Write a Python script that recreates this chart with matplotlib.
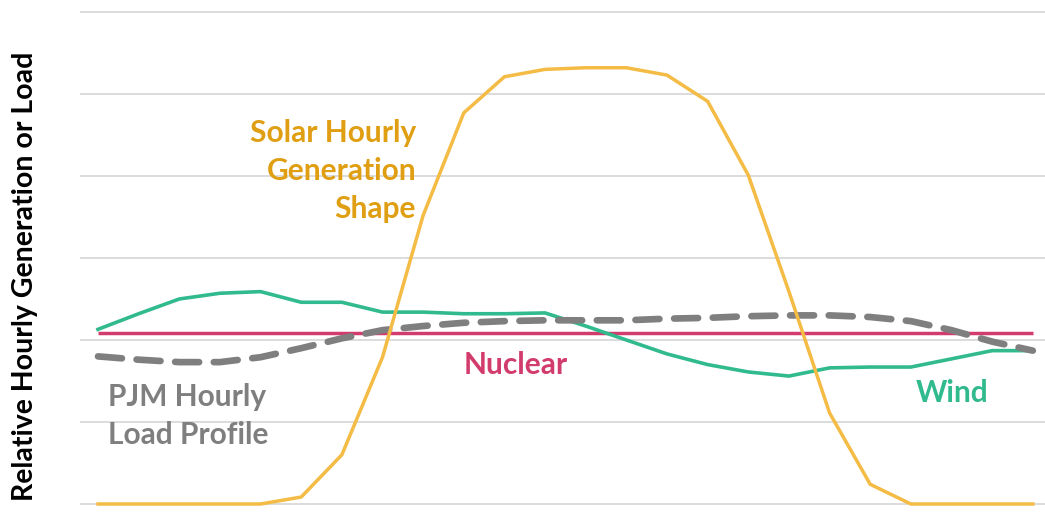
import matplotlib
matplotlib.use('Agg')
import matplotlib.pyplot as plt
import numpy as np

hours = list(range(1, 25))
solar = [0, 0, 0, 0, 0, 0.085, 0.60, 1.79, 3.52, 4.77, 5.21, 5.30, 5.32, 5.32, 5.23, 4.91,
         4.01, 2.59, 1.11, 0.24, 0, 0, 0, 0]
wind = [2.13, 2.32, 2.50, 2.57, 2.59, 2.46, 2.46, 2.34, 2.34, 2.32, 2.32, 2.33, 2.17, 2.00,
        1.83, 1.70, 1.61, 1.56, 1.66, 1.67, 1.67, 1.77, 1.87, 1.87]
nuclear = [2.09] * 24
load = [1.80, 1.76, 1.73, 1.73, 1.79, 1.90, 2.02, 2.12, 2.17, 2.21, 2.23, 2.24, 2.24, 2.24,
        2.26, 2.27, 2.29, 2.30, 2.30, 2.28, 2.23, 2.12, 1.98, 1.87]

SOLAR_C = '#F4BB45'
SOLAR_TXT = '#E09F12'
WIND_C = '#32BA8F'
NUC_C = '#D23C6C'
LOAD_C = '#7F7F7F'
FONT = 'Lato'

fig = plt.figure(figsize=(10.45, 5.12), dpi=100)
ax = fig.add_axes([80 / 1045, 0, 965 / 1045, 1])

for v in range(7):
    ax.axhline(v, color='#D9D9D9', lw=1.3, zorder=0)

ax.plot(hours, nuclear, color=NUC_C, lw=2.5, zorder=2, solid_capstyle='butt')
ax.plot(hours, wind, color=WIND_C, lw=2.6, zorder=3)
ax.plot(hours, load, color=LOAD_C, lw=4.8, zorder=4, linestyle=(0, (3.6, 2.2)),
        dash_capstyle='round')
ax.plot(hours, solar, color=SOLAR_C, lw=2.5, zorder=5, clip_on=False)

ax.set_xlim(0.557, 24.30)
ax.set_ylim(-0.0976, 6.146)
ax.axis('off')

def px(x, y):
    return x / 1045, 1 - y / 512

kw = dict(transform=fig.transFigure, fontfamily=FONT, fontweight='bold', fontsize=21.5)
fig.text(*px(416, 171), 'Solar Hourly\nGeneration\nShape', color=SOLAR_TXT, ha='right',
         va='center', linespacing=1.42, **kw)
fig.text(*px(516, 365), 'Nuclear', color=NUC_C, ha='center', va='center', **kw)
fig.text(*px(952, 393), 'Wind', color=WIND_C, ha='center', va='center', **kw)
fig.text(*px(108, 416), 'PJM Hourly\nLoad Profile', color=LOAD_C, ha='left', va='center',
         linespacing=1.42, **kw)
kw['fontsize'] = 20.5
fig.text(*px(25, 276), 'Relative Hourly Generation or Load', color='black', ha='center',
         va='center', rotation=90, **kw)

fig.savefig('out.png', dpi=100)
